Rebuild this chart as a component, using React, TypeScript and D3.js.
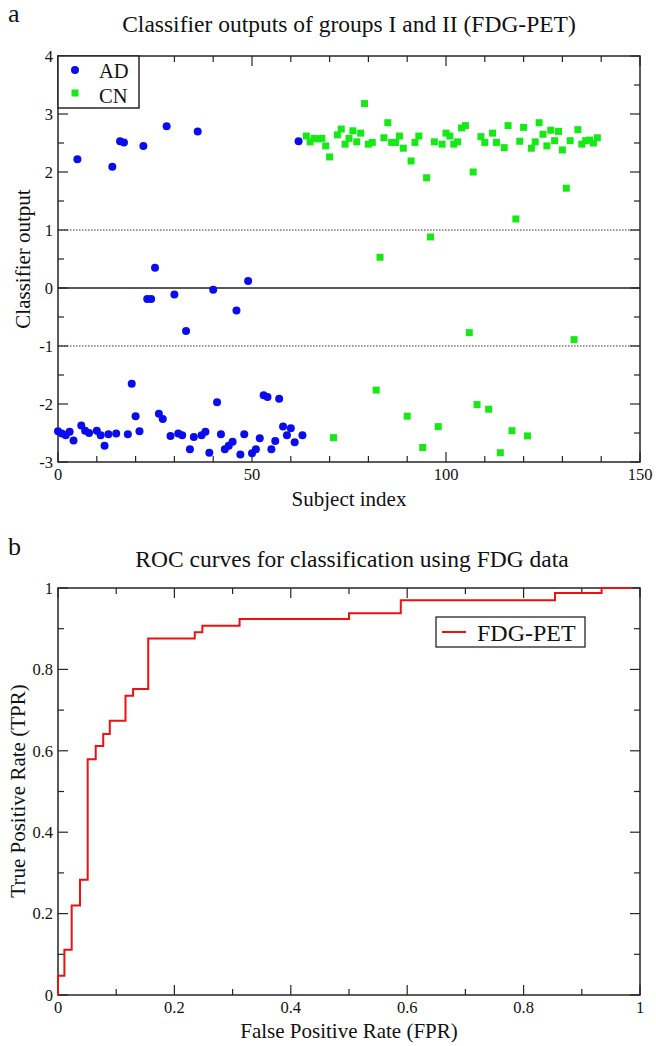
import React from "react";
import * as d3 from "d3";

// panel a: classifier outputs (subject index, output)
const adIndex = [0, 1, 2, 3, 4, 5, 6, 7, 8, 10, 11, 12, 13, 14, 15, 16, 17, 18, 19, 20, 21, 22, 23, 24, 25, 26, 27, 28, 29, 30, 31, 32, 33, 34, 35, 36, 37, 38, 39, 40, 41, 42, 43, 44, 45, 46, 47, 48, 49, 50, 51, 52, 53, 54, 55, 56, 57, 58, 59, 60, 61, 62, 63];
const adOutput = [-2.47, -2.51, -2.54, -2.48, -2.63, 2.22, -2.37, -2.46, -2.5, -2.46, -2.54, -2.72, -2.52, 2.09, -2.51, 2.53, 2.51, -2.52, -1.65, -2.21, -2.47, 2.45, -0.19, -0.19, 0.35, -2.17, -2.26, 2.79, -2.55, -0.11, -2.51, -2.54, -0.74, -2.78, -2.57, 2.7, -2.54, -2.48, -2.84, -0.03, -1.97, -2.52, -2.78, -2.72, -2.65, -0.39, -2.87, -2.52, 0.12, -2.85, -2.78, -2.59, -1.85, -1.88, -2.78, -2.64, -1.91, -2.39, -2.54, -2.42, -2.66, 2.53, -2.54];

const cnIndex = [64, 65, 66, 67, 68, 69, 70, 71, 72, 73, 74, 75, 76, 77, 78, 79, 80, 81, 82, 83, 84, 85, 86, 87, 88, 89, 90, 91, 92, 93, 94, 95, 96, 97, 98, 99, 100, 101, 102, 103, 104, 105, 106, 107, 108, 109, 110, 111, 112, 113, 114, 115, 116, 117, 118, 119, 120, 121, 122, 123, 124, 125, 126, 127, 128, 129, 130, 131, 132, 133, 134, 135, 136, 137, 138, 139];
const cnOutput = [2.62, 2.52, 2.58, 2.57, 2.58, 2.45, 2.26, -2.58, 2.64, 2.74, 2.48, 2.58, 2.71, 2.52, 2.67, 3.18, 2.48, 2.51, -1.76, 0.53, 2.59, 2.85, 2.51, 2.51, 2.62, 2.41, -2.21, 2.19, 2.51, 2.62, -2.75, 1.9, 0.88, 2.52, -2.39, 2.48, 2.67, 2.62, 2.48, 2.52, 2.76, 2.8, -0.77, 2.0, -2.01, 2.61, 2.51, -2.09, 2.67, 2.51, -2.84, 2.42, 2.8, -2.46, 1.19, 2.53, 2.77, -2.55, 2.41, 2.52, 2.85, 2.65, 2.45, 2.72, 2.54, 2.7, 2.38, 1.72, 2.54, -0.89, 2.73, 2.48, 2.54, 2.55, 2.5, 2.59];

// panel b: ROC operating points
const rocFPR = [0, 0, 0.011, 0.0235, 0.0378, 0.051, 0.0648, 0.0777, 0.089, 0.116, 0.129, 0.155, 0.235, 0.248, 0.312, 0.5, 0.589, 0.854, 0.934, 0.987];
const rocTPR = [0, 0.047, 0.111, 0.22, 0.283, 0.579, 0.612, 0.641, 0.674, 0.735, 0.752, 0.876, 0.891, 0.907, 0.924, 0.938, 0.97, 0.988, 1.0, 1.0];

const xTicksA = [0, 50, 100, 150];
const yTicksA = [-3, -2, -1, 0, 1, 2, 3, 4];
const ticksB = [0, 0.2, 0.4, 0.6, 0.8, 1];

const font = "'Liberation Serif', 'Times New Roman', serif";
const frameColor = "#262626";

function Frame({ x, y, xMajor, xMinor, yMajor, yMinor, xFmt, yFmt, labelY }: any) {
  const [x0, x1] = x.range();
  const [y0, y1] = y.range(); // y0 bottom, y1 top
  const majL = 10, minL = 6;
  return (
    <g>
      <rect x={x0} y={y1} width={x1 - x0} height={y0 - y1} fill="none" stroke={frameColor} strokeWidth={1.5} />
      {xMinor.map((t: number) => (
        <g key={"xm" + t}>
          <line x1={x(t)} x2={x(t)} y1={y0} y2={y0 - minL} stroke={frameColor} strokeWidth={1.2} />
          <line x1={x(t)} x2={x(t)} y1={y1} y2={y1 + minL} stroke={frameColor} strokeWidth={1.2} />
        </g>
      ))}
      {xMajor.map((t: number) => (
        <g key={"xM" + t}>
          <line x1={x(t)} x2={x(t)} y1={y0} y2={y0 - majL} stroke={frameColor} strokeWidth={1.2} />
          <line x1={x(t)} x2={x(t)} y1={y1} y2={y1 + majL} stroke={frameColor} strokeWidth={1.2} />
          <text x={x(t)} y={labelY} textAnchor="middle" fontSize={16.5} fontFamily={font} fill="#111">{xFmt(t)}</text>
        </g>
      ))}
      {yMinor.map((t: number) => (
        <g key={"ym" + t}>
          <line x1={x0} x2={x0 + minL} y1={y(t)} y2={y(t)} stroke={frameColor} strokeWidth={1.2} />
          <line x1={x1} x2={x1 - minL} y1={y(t)} y2={y(t)} stroke={frameColor} strokeWidth={1.2} />
        </g>
      ))}
      {yMajor.map((t: number) => (
        <g key={"yM" + t}>
          <line x1={x0} x2={x0 + majL} y1={y(t)} y2={y(t)} stroke={frameColor} strokeWidth={1.2} />
          <line x1={x1} x2={x1 - majL} y1={y(t)} y2={y(t)} stroke={frameColor} strokeWidth={1.2} />
          <text x={x0 - 5} y={y(t)} dy="0.35em" textAnchor="end" fontSize={16.5} fontFamily={font} fill="#111">{yFmt(t)}</text>
        </g>
      ))}
    </g>
  );
}

export default function App() {
  const W = 656, H = 1046;

  // panel a scales
  const xa = d3.scaleLinear().domain([0, 150]).range([58, 640]);
  const ya = d3.scaleLinear().domain([-3, 4]).range([462, 56]);
  const ad = adIndex.map((d, i) => ({ x: d, y: adOutput[i] }));
  const cn = cnIndex.map((d, i) => ({ x: d, y: cnOutput[i] }));

  // panel b scales
  const xb = d3.scaleLinear().domain([0, 1]).range([58, 640]);
  const yb = d3.scaleLinear().domain([0, 1]).range([995, 588]);
  const roc = rocFPR.map((d, i) => [d, rocTPR[i]] as [number, number]);
  const rocLine = d3.line<[number, number]>()
    .x(d => xb(d[0]))
    .y(d => yb(d[1]))
    .curve(d3.curveStepAfter);

  const fmtB = (t: number) => String(t);

  return (
    <svg width={W} height={H} style={{ position: "absolute", left: 0, top: 0, background: "#fff" }}>
      <rect width={W} height={H} fill="#fff" />

      {/* panel a */}
      <text x={8} y={22} fontSize={26} fontFamily={font} fill="#111">a</text>
      <text x={349} y={32} textAnchor="middle" fontSize={23.5} fontFamily={font} fill="#111">
        Classifier outputs of groups I and II (FDG-PET)
      </text>
      <line x1={xa(0)} x2={xa(150)} y1={ya(0)} y2={ya(0)} stroke="#222" strokeWidth={1.3} />
      {[-1, 1].map(v => (
        <line key={v} x1={xa(0)} x2={xa(150)} y1={ya(v)} y2={ya(v)} stroke="#333" strokeWidth={1.2} strokeDasharray="1.5,1.5" />
      ))}
      <Frame
        x={xa}
        y={ya}
        xMajor={xTicksA}
        xMinor={d3.range(10, 150, 10).filter(t => t % 50 !== 0)}
        yMajor={yTicksA}
        yMinor={d3.range(-2.5, 4, 1)}
        xFmt={(t: number) => String(t)}
        yFmt={(t: number) => String(t)}
        labelY={480}
      />
      {ad.map((d, i) => (
        <circle key={"ad" + i} cx={xa(d.x)} cy={ya(d.y)} r={4} fill="#0b0bf0" />
      ))}
      {cn.map((d, i) => (
        <rect key={"cn" + i} x={xa(d.x) - 3.5} y={ya(d.y) - 3.5} width={7} height={7} fill="#16ea16" />
      ))}
      <rect x={58} y={56} width={81} height={52} fill="#fff" stroke={frameColor} strokeWidth={1.5} />
      <circle cx={75} cy={70} r={4} fill="#0b0bf0" />
      <rect x={71.5} y={89.5} width={7} height={7} fill="#16ea16" />
      <text x={99} y={78} fontSize={20.5} fontFamily={font} fill="#111">AD</text>
      <text x={99} y={102.5} fontSize={20.5} fontFamily={font} fill="#111">CN</text>
      <text x={349} y={506} textAnchor="middle" fontSize={21} fontFamily={font} fill="#111">Subject index</text>
      <text transform="translate(30,259) rotate(-90)" textAnchor="middle" fontSize={21} fontFamily={font} fill="#111">Classifier output</text>

      {/* panel b */}
      <text x={8} y={555} fontSize={26} fontFamily={font} fill="#111">b</text>
      <text x={352} y={567} textAnchor="middle" fontSize={23.5} fontFamily={font} fill="#111">
        ROC curves for classification using FDG data
      </text>
      <Frame
        x={xb}
        y={yb}
        xMajor={ticksB}
        xMinor={d3.range(0.1, 1, 0.2)}
        yMajor={ticksB}
        yMinor={d3.range(0.1, 1, 0.2)}
        xFmt={fmtB}
        yFmt={fmtB}
        labelY={1013}
      />
      <path d={rocLine(roc) || ""} fill="none" stroke="#f01010" strokeWidth={2} />
      <rect x={436} y={617} width={149} height={30} fill="#fff" stroke={frameColor} strokeWidth={1.3} />
      <line x1={442} x2={466} y1={632} y2={632} stroke="#f01010" strokeWidth={2} />
      <text x={477} y={641} fontSize={24} fontFamily={font} fill="#111">FDG-PET</text>
      <text x={349} y={1038} textAnchor="middle" fontSize={21} fontFamily={font} fill="#111">False Positive Rate (FPR)</text>
      <text transform="translate(25,791) rotate(-90)" textAnchor="middle" fontSize={21} fontFamily={font} fill="#111">True Positive Rate (TPR)</text>
    </svg>
  );
}
